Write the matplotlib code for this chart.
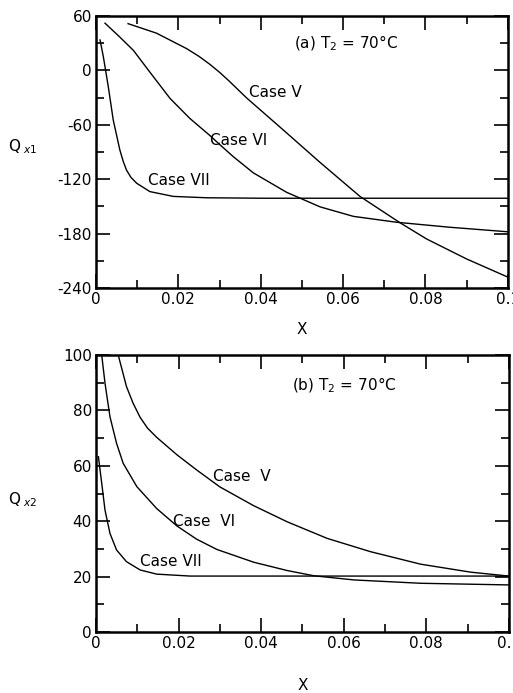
import numpy as np
import matplotlib
matplotlib.use("Agg")
import matplotlib.pyplot as plt
from matplotlib.ticker import MultipleLocator, FuncFormatter

# ---- data ----
# (a) Q_x1
x_a5 = [0.0078, 0.0147, 0.022, 0.025, 0.0277, 0.0301, 0.0325, 0.0366, 0.0463, 0.0544, 0.0641, 0.0738, 0.0803, 0.090, 0.1]
q_a5 = [51.5, 41, 24, 15.5, 6.5, -2.5, -12.5, -30.5, -69, -101.5, -139, -168, -186, -208, -228]
x_a6 = [0.0022, 0.0055, 0.0091, 0.0131, 0.018, 0.0228, 0.0277, 0.0301, 0.0333, 0.0382, 0.0463, 0.0544, 0.0625, 0.073, 0.0859, 0.1]
q_a6 = [52, 38, 22, -2, -31, -53, -72, -82, -95, -113, -134.5, -150.5, -161, -167.5, -173, -178]
x_a7 = [0.001, 0.0018, 0.003, 0.0042, 0.0058, 0.0066, 0.0074, 0.0085, 0.0099, 0.0131, 0.0188, 0.0269, 0.04, 0.1]
q_a7 = [33.5, 15, -18, -54.7, -87.7, -100, -109.8, -118, -124.5, -133.7, -139, -140.5, -141, -141]

# (b) Q_x2
x_b5 = [0.0054, 0.0074, 0.009, 0.0107, 0.0125, 0.0147, 0.0196, 0.0244, 0.030, 0.0382, 0.0463, 0.056, 0.0665, 0.0786, 0.0908, 0.1]
q_b5 = [100, 88.6, 82.6, 77.5, 73.6, 70.3, 64, 58.5, 52.4, 45.6, 39.8, 33.8, 29, 24.5, 21.6, 20.2]
x_b6 = [0.0014, 0.0022, 0.0034, 0.005, 0.0066, 0.0099, 0.0147, 0.0196, 0.0244, 0.0293, 0.0382, 0.0463, 0.0528, 0.0625, 0.0786, 0.1]
q_b6 = [100, 89.8, 77.7, 68.1, 60.9, 52.5, 44.6, 38.3, 33.5, 29.8, 25.2, 22.2, 20.3, 18.8, 17.6, 17]
x_b7 = [0.0006, 0.0014, 0.0022, 0.0034, 0.005, 0.0074, 0.0107, 0.0147, 0.0228, 0.1]
q_b7 = [63.3, 53.7, 44, 35.6, 29.6, 25.4, 22.4, 20.9, 20.2, 20.2]

xticks_lbl = ["0", "0.02", "0.04", "0.06", "0.08", "0.1"]

plt.rcParams['font.family'] = ['DejaVu Sans']
plt.rcParams['axes.unicode_minus'] = False
fs = 11

fig = plt.figure(figsize=(5.13, 6.93), dpi=100)
ax1 = fig.add_axes([0.187, 0.5844, 0.803, 0.3926])
ax2 = fig.add_axes([0.187, 0.088, 0.805, 0.3997])

def style(ax, ymin, ymax, ymaj, ymin_step):
    ax.set_xlim(0, 0.1)
    ax.set_ylim(ymin, ymax)
    ax.xaxis.set_major_locator(MultipleLocator(0.02))
    ax.xaxis.set_minor_locator(MultipleLocator(0.01))
    ax.yaxis.set_major_locator(MultipleLocator(ymaj))
    ax.yaxis.set_minor_locator(MultipleLocator(ymin_step))
    ax.xaxis.set_major_formatter(FuncFormatter(lambda v, p: xticks_lbl[int(round(v / 0.02))] if 0 <= round(v / 0.02) <= 5 else ""))
    ax.tick_params(which='both', direction='in', top=True, right=True, labelsize=fs, width=1.2)
    ax.tick_params(which='major', length=10, pad=3)
    ax.tick_params(which='minor', length=6)
    for s in ax.spines.values():
        s.set_linewidth(1.8)

lw = 1.0
ax1.plot(x_a5, q_a5, 'k-', lw=lw)
ax1.plot(x_a6, q_a6, 'k-', lw=lw)
ax1.plot(x_a7, q_a7, 'k-', lw=lw)
style(ax1, -240, 60, 60, 30)
ax1.text(0.048, 30, r"(a) T$_2$ = 70$\degree$C", fontsize=fs, va='center')
ax1.text(0.0372, -24, "Case V", fontsize=fs, va='center')
ax1.text(0.0277, -77, "Case VI", fontsize=fs, va='center')
ax1.text(0.0127, -122, "Case VII", fontsize=fs, va='center')
fig.text(0.016, 1 - 147 / 693, r"Q$_{\ x1}$", fontsize=fs, va='center')
fig.text(302 / 513, 1 - 330 / 693, "X", fontsize=fs, ha='center', va='center')

ax2.plot(x_b5, q_b5, 'k-', lw=lw)
ax2.plot(x_b6, q_b6, 'k-', lw=lw)
ax2.plot(x_b7, q_b7, 'k-', lw=lw)
style(ax2, 0, 100, 20, 10)
ax2.text(0.0475, 89, r"(b) T$_2$ = 70$\degree$C", fontsize=fs, va='center')
ax2.text(0.0284, 56, "Case  V", fontsize=fs, va='center')
ax2.text(0.0187, 40, "Case  VI", fontsize=fs, va='center')
ax2.text(0.0107, 25.3, "Case VII", fontsize=fs, va='center')
fig.text(0.016, 1 - 500 / 693, r"Q$_{\ x2}$", fontsize=fs, va='center')
fig.text(303 / 513, 1 - 685 / 693, "X", fontsize=fs, ha='center', va='center')

fig.savefig("out.png", dpi=100)
